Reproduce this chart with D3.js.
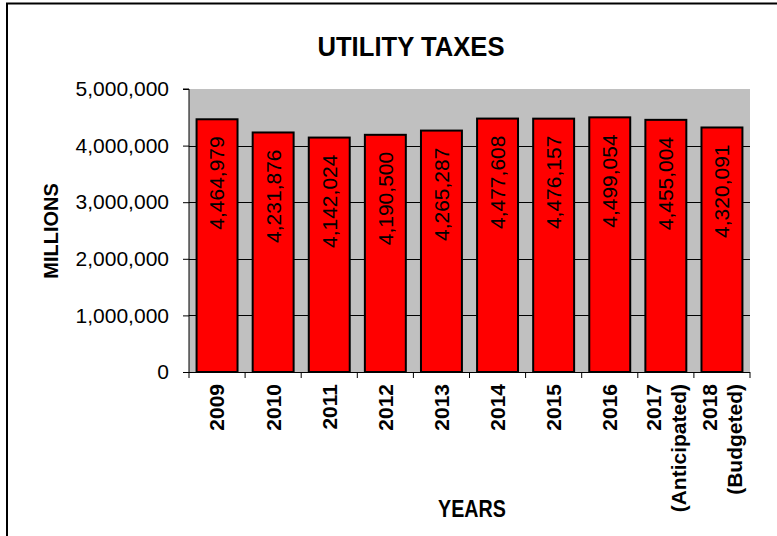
<!DOCTYPE html>
<html>
<head>
<meta charset="utf-8">
<script src="https://d3js.org/d3.v7.min.js"></script>
<style>
    body { margin: 0; background: #fff; }
    text { font-family: Arial, "Liberation Sans", sans-serif; fill: #000; }
</style>
</head>
<body>
<div id="chart"></div>
<script>
var years = ['2009', '2010', '2011', '2012', '2013', '2014', '2015', '2016', '2017\n(Anticipated)', '2018\n(Budgeted)'];
var taxes = [4464979, 4231876, 4142024, 4190500, 4265287, 4477608, 4476157, 4499054, 4455004, 4320091];
var yTicks = [0, 1000000, 2000000, 3000000, 4000000, 5000000];

function utility_chart(_containerId) {
    var WIDTH = 777, HEIGHT = 536,
        LEFT = 189, RIGHT = 750, TOP = 89, BOTTOM = 372;

    var svg, x, y, plot, fmt = d3.format(',');

    svg = d3.select(_containerId).append('svg')
        .attr('width', WIDTH)
        .attr('height', HEIGHT);

    // frame of the embedded chart, only left and top edges show
    svg.append('rect')
        .attr('x', 7).attr('y', 3.5)
        .attr('width', 900).attr('height', 700)
        .attr('fill', 'none')
        .attr('stroke', '#000')
        .attr('stroke-width', 2);

    x = d3.scaleBand()
        .domain(years)
        .range([LEFT, RIGHT])
        .paddingInner(0.27)
        .paddingOuter(0.135);

    y = d3.scaleLinear()
        .domain([0, 5000000])
        .range([BOTTOM, TOP]);

    plot = svg.append('g').attr('id', 'plot');

    plot.append('rect')
        .attr('x', LEFT).attr('y', TOP)
        .attr('width', RIGHT - LEFT).attr('height', BOTTOM - TOP)
        .attr('fill', '#c0c0c0');

    plot.selectAll('line.grid')
        .data(yTicks.filter(function (d) { return d > 0 && d < 5000000; }))
        .enter().append('line')
        .attr('class', 'grid')
        .attr('x1', LEFT).attr('x2', RIGHT)
        .attr('y1', function (d) { return Math.round(y(d)) + 0.5; })
        .attr('y2', function (d) { return Math.round(y(d)) + 0.5; })
        .attr('stroke', '#000');

    plot.selectAll('rect.bar')
        .data(taxes)
        .enter().append('rect')
        .attr('class', 'bar')
        .attr('x', function (d, i) { return x(years[i]); })
        .attr('y', function (d) { return y(d); })
        .attr('width', x.bandwidth())
        .attr('height', function (d) { return BOTTOM - y(d); })
        .attr('fill', '#ff0000')
        .attr('stroke', '#000')
        .attr('stroke-width', 2);

    plot.selectAll('text.value')
        .data(taxes)
        .enter().append('text')
        .attr('class', 'value')
        .attr('transform', function (d, i) {
            return 'translate(' + (x(years[i]) + x.bandwidth() / 2) + ',' + (y(d) + 17) + ')rotate(-90)';
        })
        .attr('text-anchor', 'end')
        .attr('dy', '0.35em')
        .style('font-size', '21px')
        .text(function (d) { return fmt(d); });

    // y axis
    var yAxis = svg.append('g')
        .attr('transform', 'translate(' + LEFT + ',0)')
        .call(d3.axisLeft(y).tickValues(yTicks).tickSize(6).tickPadding(14).tickFormat(fmt));
    yAxis.select('.domain').attr('stroke', '#000').attr('d', 'M-6,' + TOP + 'H0V' + BOTTOM);
    yAxis.selectAll('.tick line').attr('stroke', '#000');
    yAxis.selectAll('.tick text')
        .attr('font-family', null)
        .style('font-size', '21px');

    // x axis, ticks on category boundaries
    var step = x.step();
    var bounds = d3.range(years.length + 1).map(function (i) { return LEFT + i * step; });
    svg.append('line')
        .attr('x1', LEFT - 6).attr('x2', RIGHT)
        .attr('y1', BOTTOM + 0.5).attr('y2', BOTTOM + 0.5)
        .attr('stroke', '#000');
    svg.selectAll('line.xtick')
        .data(bounds)
        .enter().append('line')
        .attr('class', 'xtick')
        .attr('x1', function (d) { return d; }).attr('x2', function (d) { return d; })
        .attr('y1', BOTTOM).attr('y2', BOTTOM + 6)
        .attr('stroke', '#000');

    var xl = svg.selectAll('text.year')
        .data(years)
        .enter().append('text')
        .attr('class', 'year')
        .attr('transform', function (d) {
            return 'translate(' + (x(d) + x.bandwidth() / 2) + ',' + (BOTTOM + 12) + ')rotate(-90)';
        })
        .attr('text-anchor', 'end')
        .style('font-size', '21px')
        .style('font-weight', 'bold');
    xl.each(function (d) {
        var lines = d.split('\n'), t = d3.select(this);
        lines.forEach(function (s, k) {
            t.append('tspan')
                .attr('x', 0)
                .attr('y', (k - (lines.length - 1) / 2) * 25)
                .attr('dy', '0.35em')
                .text(s);
        });
    });

    svg.append('text')
        .attr('transform', 'translate(411,56)scale(0.95,1)')
        .attr('text-anchor', 'middle')
        .style('font-size', '27px')
        .style('font-weight', 'bold')
        .text('UTILITY TAXES');

    svg.append('text')
        .attr('transform', 'translate(472,517)scale(0.82,1)')
        .attr('text-anchor', 'middle')
        .style('font-size', '24px')
        .style('font-weight', 'bold')
        .text('YEARS');

    svg.append('text')
        .attr('transform', 'translate(58,231)rotate(-90)')
        .attr('text-anchor', 'middle')
        .style('font-size', '20px')
        .style('font-weight', 'bold')
        .text('MILLIONS');
}

utility_chart('#chart');
</script>
</body>
</html>
